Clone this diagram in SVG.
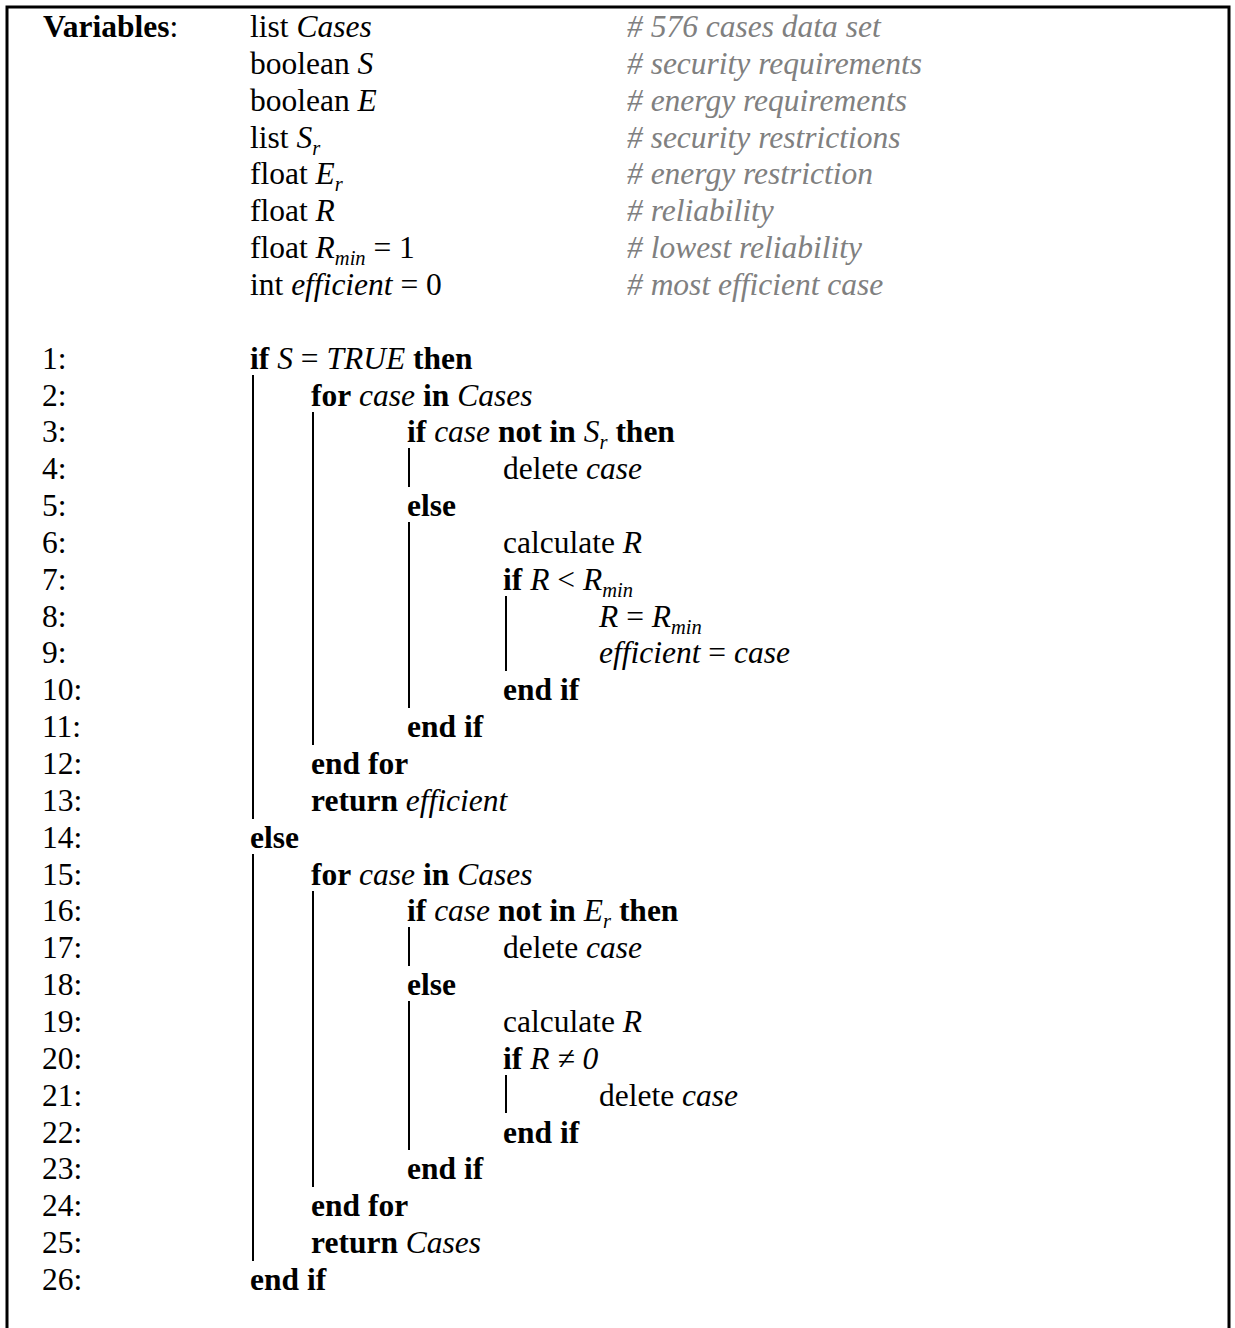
<svg xmlns="http://www.w3.org/2000/svg" width="1235" height="1328" viewBox="0 0 1235 1328">
<style>
text{font-family:"Liberation Serif","Times New Roman",serif;font-size:31.5px;fill:#000}
.b{font-weight:bold}
.i{font-style:italic}
.c{fill:#808080;font-style:italic}
.s{font-size:20.5px;font-style:italic}
.bar{stroke:#000;stroke-width:2;fill:none}
.frame{stroke:#000;stroke-width:3;fill:none}
</style>
<rect width="1235" height="1328" fill="#fff"/>
<path class="frame" d="M7,1328 V7 H1229 V1328"/>
<g id="variables">
<text x="43" y="37"><tspan class="b">Variables</tspan>:</text>
<text x="250" y="37">list <tspan class="i">Cases</tspan></text>
<text x="627" y="37" class="c"># 576 cases data set</text>
<text x="250" y="73.85">boolean <tspan class="i">S</tspan></text>
<text x="627" y="73.85" class="c"># security requirements</text>
<text x="250" y="110.7">boolean <tspan class="i">E</tspan></text>
<text x="627" y="110.7" class="c"># energy requirements</text>
<text x="250" y="147.55">list <tspan class="i">S</tspan><tspan class="s" dy="7">r</tspan></text>
<text x="627" y="147.55" class="c"># security restrictions</text>
<text x="250" y="184.4">float <tspan class="i">E</tspan><tspan class="s" dy="7">r</tspan></text>
<text x="627" y="184.4" class="c"># energy restriction</text>
<text x="250" y="221.25">float <tspan class="i">R</tspan></text>
<text x="627" y="221.25" class="c"># reliability</text>
<text x="250" y="258.1">float <tspan class="i">R</tspan><tspan class="s" dy="7">min</tspan><tspan dy="-7"> = 1</tspan></text>
<text x="627" y="258.1" class="c"># lowest reliability</text>
<text x="250" y="294.95">int <tspan class="i">efficient</tspan> = 0</text>
<text x="627" y="294.95" class="c"># most efficient case</text>
</g>
<g id="line-numbers">
<text x="42" y="368.65">1:</text>
<text x="42" y="405.5">2:</text>
<text x="42" y="442.35">3:</text>
<text x="42" y="479.2">4:</text>
<text x="42" y="516.05">5:</text>
<text x="42" y="552.9">6:</text>
<text x="42" y="589.75">7:</text>
<text x="42" y="626.6">8:</text>
<text x="42" y="663.45">9:</text>
<text x="42" y="700.3">10:</text>
<text x="42" y="737.15">11:</text>
<text x="42" y="774">12:</text>
<text x="42" y="810.85">13:</text>
<text x="42" y="847.7">14:</text>
<text x="42" y="884.55">15:</text>
<text x="42" y="921.4">16:</text>
<text x="42" y="958.25">17:</text>
<text x="42" y="995.1">18:</text>
<text x="42" y="1031.95">19:</text>
<text x="42" y="1068.8">20:</text>
<text x="42" y="1105.65">21:</text>
<text x="42" y="1142.5">22:</text>
<text x="42" y="1179.35">23:</text>
<text x="42" y="1216.2">24:</text>
<text x="42" y="1253.05">25:</text>
<text x="42" y="1289.9">26:</text>
</g>
<g id="code">
<text x="250" y="368.65"><tspan class="b">if</tspan> <tspan class="i">S</tspan> = <tspan class="i">TRUE</tspan> <tspan class="b">then</tspan></text>
<text x="311" y="405.5"><tspan class="b">for</tspan> <tspan class="i">case</tspan> <tspan class="b">in</tspan> <tspan class="i">Cases</tspan></text>
<text x="407" y="442.35"><tspan class="b">if</tspan> <tspan class="i">case</tspan> <tspan class="b">not in</tspan> <tspan class="i">S</tspan><tspan class="s" dy="7">r</tspan><tspan dy="-7"> </tspan><tspan class="b">then</tspan></text>
<text x="503" y="479.2">delete <tspan class="i">case</tspan></text>
<text x="407" y="516.05" class="b">else</text>
<text x="503" y="552.9">calculate <tspan class="i">R</tspan></text>
<text x="503" y="589.75"><tspan class="b">if</tspan> <tspan class="i">R</tspan> &lt; <tspan class="i">R</tspan><tspan class="s" dy="7">min</tspan></text>
<text x="599" y="626.6"><tspan class="i">R</tspan> = <tspan class="i">R</tspan><tspan class="s" dy="7">min</tspan></text>
<text x="599" y="663.45"><tspan class="i">efficient</tspan> = <tspan class="i">case</tspan></text>
<text x="503" y="700.3" class="b">end if</text>
<text x="407" y="737.15" class="b">end if</text>
<text x="311" y="774" class="b">end for</text>
<text x="311" y="810.85"><tspan class="b">return</tspan> <tspan class="i">efficient</tspan></text>
<text x="250" y="847.7" class="b">else</text>
<text x="311" y="884.55"><tspan class="b">for</tspan> <tspan class="i">case</tspan> <tspan class="b">in</tspan> <tspan class="i">Cases</tspan></text>
<text x="407" y="921.4"><tspan class="b">if</tspan> <tspan class="i">case</tspan> <tspan class="b">not in</tspan> <tspan class="i">E</tspan><tspan class="s" dy="7">r</tspan><tspan dy="-7"> </tspan><tspan class="b">then</tspan></text>
<text x="503" y="958.25">delete <tspan class="i">case</tspan></text>
<text x="407" y="995.1" class="b">else</text>
<text x="503" y="1031.95">calculate <tspan class="i">R</tspan></text>
<text x="503" y="1068.8"><tspan class="b">if</tspan> <tspan class="i">R ≠ 0</tspan></text>
<text x="599" y="1105.65">delete <tspan class="i">case</tspan></text>
<text x="503" y="1142.5" class="b">end if</text>
<text x="407" y="1179.35" class="b">end if</text>
<text x="311" y="1216.2" class="b">end for</text>
<text x="311" y="1253.05"><tspan class="b">return</tspan> <tspan class="i">Cases</tspan></text>
<text x="250" y="1289.9" class="b">end if</text>
</g>
<g id="connectors">
<line class="bar" x1="253" y1="375" x2="253" y2="819"/>
<line class="bar" x1="253" y1="854" x2="253" y2="1261"/>
<line class="bar" x1="313" y1="412" x2="313" y2="745"/>
<line class="bar" x1="313" y1="891" x2="313" y2="1187"/>
<line class="bar" x1="409" y1="448" x2="409" y2="487"/>
<line class="bar" x1="409" y1="522" x2="409" y2="708"/>
<line class="bar" x1="409" y1="927" x2="409" y2="966"/>
<line class="bar" x1="409" y1="1001" x2="409" y2="1150"/>
<line class="bar" x1="506" y1="596" x2="506" y2="671"/>
<line class="bar" x1="506" y1="1075" x2="506" y2="1113"/>
</g>
</svg>
